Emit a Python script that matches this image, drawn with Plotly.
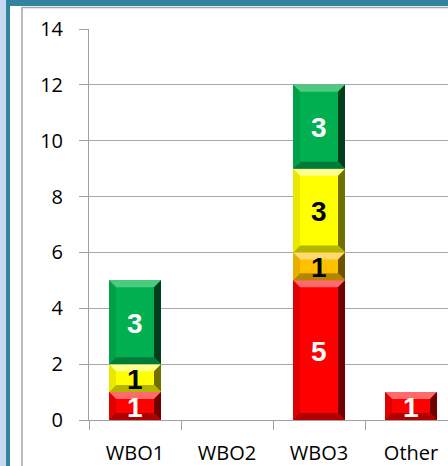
import plotly.graph_objects as go

categories = ["WBO1", "WBO2", "WBO3", "Other"]
red = [1, 0, 5, 1]
orange = [0, 0, 1, 0]
yellow = [1, 0, 3, 0]
green = [3, 0, 3, 0]
y_ticks = [0, 2, 4, 6, 8, 10, 12, 14]

series = [
    ("red", red, "#FF0000", "#FF6A6A", "#700000", "#B00000", "#E00000", "white"),
    ("orange", orange, "#FFC000", "#FFDA70", "#6E5200", "#B38600", "#E8AE00", "black"),
    ("yellow", yellow, "#FFFF00", "#FFFF90", "#707000", "#B5B500", "#E8E800", "black"),
    ("green", green, "#00B050", "#4CCB80", "#003D1C", "#007A38", "#00A048", "white"),
]

W, H = 448, 466
ML, MR, MT, MB = 89, 0, 29, 46
plot_w = W - ML - MR
plot_h = H - MT - MB
cat_px = 92.0
x_lo = -0.5
x_hi = x_lo + plot_w / cat_px
bar_frac = 52.0 / 92.0
half = bar_frac / 2
bev_px = 7.0
dx = bev_px / cat_px
dy = bev_px / (plot_h / 14.0)

fig = go.Figure()
shapes = []
annotations = []
bases = [0] * len(categories)
for name, vals, col, light, darkest, dark, left, tcol in series:
    fig.add_trace(go.Bar(
        x=categories, y=vals, base=bases[:], name=name,
        marker=dict(color=col, line=dict(width=0)),
        width=bar_frac, hoverinfo="skip", showlegend=False,
    ))
    for i, v in enumerate(vals):
        if v <= 0:
            continue
        x0, x1 = i - half, i + half
        y0, y1 = bases[i], bases[i] + v
        def poly(pts, c):
            p = "M " + " L ".join(f"{a},{b}" for a, b in pts) + " Z"
            shapes.append(dict(type="path", path=p, xref="x", yref="y",
                               fillcolor=c, line=dict(width=0), layer="above"))
        poly([(x0, y1), (x1, y1), (x1 - dx, y1 - dy), (x0 + dx, y1 - dy)], light)
        poly([(x1, y1), (x1, y0), (x1 - dx, y0 + dy), (x1 - dx, y1 - dy)], darkest)
        poly([(x0, y0), (x1, y0), (x1 - dx, y0 + dy), (x0 + dx, y0 + dy)], dark)
        poly([(x0, y0), (x0, y1), (x0 + dx, y1 - dy), (x0 + dx, y0 + dy)], left)
        annotations.append(dict(
            x=i, y=y0 + v / 2, xref="x", yref="y", text=f"<b>{v}</b>",
            showarrow=False,
            font=dict(family="Liberation Sans, Arial", size=28, color=tcol),
            yshift=-1,
        ))
        bases[i] += v

def px_x(p):
    return (p - ML) / plot_w

def px_y(p):
    return (H - MB - p) / plot_h

# frame decorations
shapes.append(dict(type="rect", xref="paper", yref="paper",
                   x0=px_x(0), x1=px_x(6), y0=px_y(H + 2), y1=px_y(-2),
                   fillcolor="#C6D9F0", line=dict(width=0), layer="below"))
shapes.append(dict(type="rect", xref="paper", yref="paper",
                   x0=px_x(6), x1=px_x(10), y0=px_y(H + 2), y1=px_y(0),
                   fillcolor="#31849B", line=dict(width=0), layer="below"))
shapes.append(dict(type="rect", xref="paper", yref="paper",
                   x0=px_x(6), x1=px_x(W + 2), y0=px_y(6), y1=px_y(0),
                   fillcolor="#31849B", line=dict(width=0), layer="below"))
shapes.append(dict(type="rect", xref="paper", yref="paper",
                   x0=px_x(22), x1=px_x(W + 20), y0=px_y(H + 20), y1=px_y(7.5),
                   fillcolor="rgba(0,0,0,0)", line=dict(color="#A8A8A8", width=1.5),
                   layer="below"))

fig.update_layout(
    width=W, height=H,
    margin=dict(l=ML, r=MR, t=MT, b=MB, pad=0, autoexpand=False),
    paper_bgcolor="white", plot_bgcolor="white",
    barmode="overlay",
    shapes=shapes, annotations=annotations,
    font=dict(family="Open Sans", size=20, color="black"),
    showlegend=False,
)
fig.update_xaxes(
    type="category", categoryorder="array", categoryarray=categories,
    range=[x_lo, x_hi], tickson="boundaries", automargin=False,
    showline=True, linecolor="#A0A0A0", linewidth=1,
    ticks="outside", ticklen=9, tickcolor="#A0A0A0", tickwidth=1,
    showgrid=False, tickfont=dict(family="Open Sans", size=20, color="black"),
    ticklabelstandoff=15,
)
fig.update_yaxes(
    range=[0, 14], tickvals=y_ticks, automargin=False,
    showline=True, linecolor="#A0A0A0", linewidth=1,
    ticks="outside", ticklen=9, tickcolor="#A0A0A0", tickwidth=1,
    showgrid=True, gridcolor="#A8A8A8", gridwidth=1,
    zeroline=False,
    tickfont=dict(family="Open Sans", size=20, color="black"),
    ticklabelstandoff=12,
)

fig.write_html(
    "out.html",
    config={"displayModeBar": False},
    post_script="document.body.style.margin='0';document.body.style.overflow='hidden';",
)
